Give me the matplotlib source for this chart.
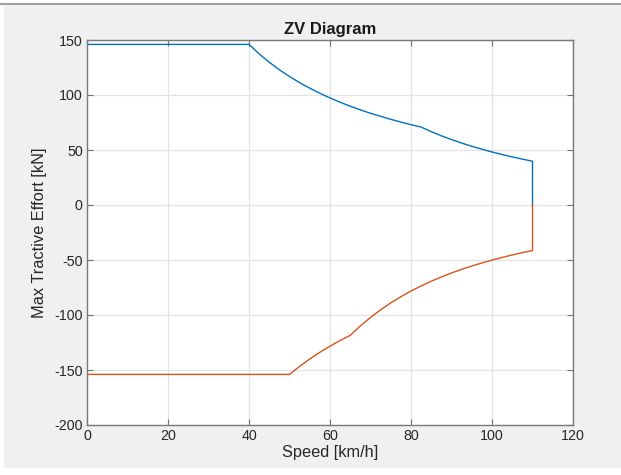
import numpy as np
import matplotlib.pyplot as plt
from matplotlib.patches import Rectangle
from matplotlib.lines import Line2D

plt.rcParams['font.family'] = ['Liberation Sans', 'DejaVu Sans']
plt.rcParams['axes.unicode_minus'] = False

# traction envelope (speed km/h, force kN)
speed_trac = [0, 40, 42.5, 45, 47.5, 50, 52.5, 55, 57.5, 60, 62.5, 65, 67.5, 70,
              72.5, 75, 77.5, 80, 82.5, 85, 87.5, 90, 92.5, 95, 97.5, 100,
              102.5, 105, 107.5, 110, 110]
force_trac = [146, 146, 137.4, 129.8, 122.9, 116.8, 111.2, 106.2, 101.6, 97.3,
              93.4, 89.8, 86.5, 83.4, 80.6, 77.9, 75.4, 73, 70.8, 66.7, 62.9,
              59.5, 56.3, 53.4, 50.7, 48.2, 45.9, 43.7, 41.7, 39.8, 0]

# braking envelope
speed_brake = [0, 50, 52.5, 55, 57.5, 60, 62.5, 65, 67.5, 70, 72.5, 75, 77.5,
               80, 82.5, 85, 87.5, 90, 92.5, 95, 97.5, 100, 102.5, 105, 107.5,
               110, 110]
force_brake = [-154, -154, -146.7, -140, -133.9, -128.3, -123.2, -118.5, -109.9,
               -102.2, -95.3, -89, -83.4, -78.2, -73.6, -69.3, -65.4, -61.8,
               -58.5, -55.5, -52.7, -50.1, -47.7, -45.4, -43.3, -41.4, 0]

xticks = [0, 20, 40, 60, 80, 100, 120]
yticks = [-200, -150, -100, -50, 0, 50, 100, 150]

fig = plt.figure(figsize=(6.21, 4.75), dpi=100)
fig.patch.set_facecolor('white')
# window background and top border
fig.patches.append(Rectangle((4 / 621, 7 / 475), 617 / 621, 464 / 475,
                             transform=fig.transFigure, facecolor='#f0f0f0',
                             edgecolor='none', zorder=-10))
fig.lines.append(Line2D([0, 1], [1 - 3.5 / 475, 1 - 3.5 / 475],
                        transform=fig.transFigure, color='#a0a0a0', lw=1.5))

ax = fig.add_axes([87 / 621, 1 - 425 / 475, 486 / 621, 385 / 475])
ax.plot(speed_trac, force_trac, color='#0072BD', lw=1.0)
ax.plot(speed_brake, force_brake, color='#D95319', lw=1.0)

ax.set_xlim(0, 120)
ax.set_ylim(-200, 150)
ax.set_xticks(xticks)
ax.set_yticks(yticks)
ax.grid(True, color='#e3e3e3', lw=0.9)
ax.set_axisbelow(True)
ax.tick_params(direction='in', top=True, right=True, length=4, width=0.8,
               color='#707070', labelsize=10.3, labelcolor='#262626', pad=3)
for sp in ax.spines.values():
    sp.set_color('#7a7a7a')
    sp.set_linewidth(1.0)

ax.set_title('ZV Diagram', fontsize=12, fontweight='bold', color='#1a1a1a', pad=4)
ax.set_xlabel('Speed [km/h]', fontsize=11.8, color='#262626', labelpad=1)
ax.set_ylabel('Max Tractive Effort [kN]', fontsize=11.8, color='#262626', labelpad=5)

fig.savefig('out.png', dpi=100, facecolor=fig.get_facecolor())
